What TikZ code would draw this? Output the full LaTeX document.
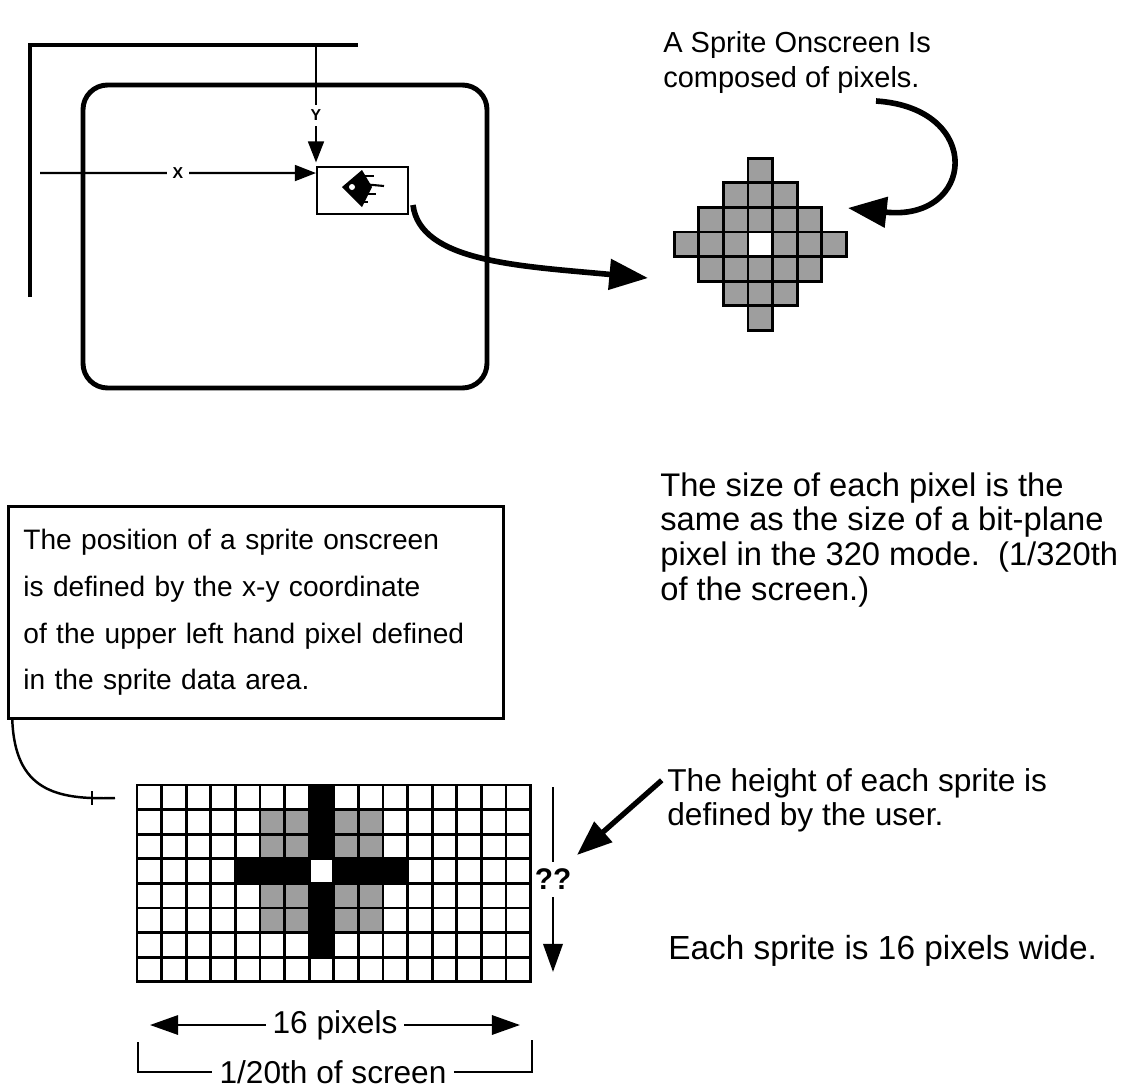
\documentclass[tikz,border=0pt]{standalone}
\usepackage{fontspec}
\setmainfont{Liberation Sans}
\usetikzlibrary{arrows.meta}

\begin{document}
\begin{tikzpicture}[x=0.02cm,y=-0.02cm,
    note/.style={inner sep=0pt,anchor=north west,align=left,font=\fontsize{18}{19.6}\selectfont},
    pix/.style={draw=black,line width=1.6pt,fill=black!38},
    cell/.style={draw=black,line width=1.6pt,fill=white},
    bigarrow/.style={line width=3.2pt,-{Triangle[length=22pt,width=17pt]}},
    thinarrow/.style={line width=1.3pt,-{Triangle[length=12pt,width=9pt]}}]
  \useasboundingbox (0,0) rectangle (1130,1089);

  % the screen and the sprite placed on it
  \draw[line width=2pt] (30,297) -- (30,45) -- (358,45);
  \draw[line width=2.8pt,rounded corners=14pt] (83,85) rectangle (487,388);
  \node[draw,line width=1.4pt,minimum width=1.82cm,minimum height=0.94cm,anchor=north west,inner sep=0pt] (spritebox) at (316,166) {};
  \fill (342,187) -- (362,170) -- (372,187) -- (362,207) -- cycle;
  \fill[white] (352,187) circle (3);
  \draw[line width=1.2pt] (362,184) -- (384,186);
  \draw[line width=0.8pt] (362,176) -- (374,176) (364,194) -- (376,194) (358,202) -- (368,202);
  \coordinate (xfrom) at (40,173);
  \coordinate (yfrom) at (316,45);
  \draw[thinarrow] (xfrom) -- node[fill=white,inner sep=3pt,font=\bfseries\small]{X} ([yshift=-4pt]spritebox.north west);
  \draw[thinarrow] (yfrom) -- node[pos=0.6,fill=white,inner sep=3pt,font=\bfseries\small]{Y} ([yshift=2pt]spritebox.north west);

  % the sprite as pixels
  \foreach \r in {-3,...,3} {
      \foreach \c in {-3,...,3} {
          \pgfmathtruncatemacro\d{abs(\r)+abs(\c)}
          \ifnum\d<4
            \ifnum\d=0
              \draw[cell] (748+\c*24.6,232+\r*24.6) rectangle +(24.6,24.6);
            \else
              \draw[pix] (748+\c*24.6,232+\r*24.6) rectangle +(24.6,24.6);
            \fi
          \fi
        }
    }
  \coordinate (diamondin) at (648,278);
  \coordinate (diamondtop) at (848,208);
  \draw[bigarrow] (413,205) .. controls (420,262) and (520,266) .. (diamondin);

  \node[note,font=\fontsize{16.5}{19.8}\selectfont] (caption) at (663,31) {A Sprite Onscreen Is\\composed of pixels.};
  \draw[bigarrow] (876,101) .. controls (985,108) and (975,222) .. (diamondtop);

  \node[note,font=\fontsize{18.6}{19.8}\selectfont] (sizenote) at (660,472) {The size of each pixel is the\\same as the size of a bit-plane\\pixel in the 320 mode.\ \ (1/320th\\of the screen.)};

  % where the sprite data starts
  \node[draw,line width=1.6pt,anchor=north west,minimum width=9.9cm,minimum height=4.24cm,text width=9.3cm,align=left,inner xsep=0.3cm,
        font=\fontsize{16}{26.6}\selectfont] (posnote) at (7,505)
        {The position of a sprite onscreen\\is defined by the x-y coordinate\\of the upper left hand pixel defined\\in the sprite data area.};

  % sprite data grid, 16 pixels across
  \foreach \r in {0,...,7} {
      \foreach \c in {0,...,15} {
          \draw[cell] (137+\c*24.6,785+\r*24.6) rectangle +(24.6,24.6);
        }
    }
  \foreach \r in {1,2,4,5} {
      \foreach \c in {5,6,8,9} {
          \draw[pix] (137+\c*24.6,785+\r*24.6) rectangle +(24.6,24.6);
        }
    }
  \foreach \c in {4,5,6,8,9,10} {
      \fill[draw=black,line width=1.6pt] (137+\c*24.6,785+3*24.6) rectangle +(24.6,24.6);
    }
  \foreach \r in {0,1,2,4,5,6} {
      \fill[draw=black,line width=1.6pt] (137+7*24.6,785+\r*24.6) rectangle +(24.6,24.6);
    }
  \coordinate (firstpix) at (115,798);
  \draw[line width=1.4pt] ([xshift=3pt]posnote.south west) .. controls (15,790) and (55,800) .. (firstpix);
  \draw[line width=0.8pt] (86,798) -- (98,798) (92,791) -- (92,805);

  % height is free
  \coordinate (htop) at (553,787);
  \coordinate (hbot) at (553,972);
  \draw[line width=1.5pt,-{Triangle[length=16pt,width=11pt]}] (htop) -- node[fill=white,inner ysep=4pt,inner xsep=1pt,font=\bfseries\fontsize{17}{17}\selectfont]{??} (hbot);
  \node[note] (heightnote) at (667,768) {The height of each sprite is\\defined by the user.};
  \coordinate (qmark) at (577,855);
  \draw[line width=3pt,-{Triangle[length=20pt,width=15pt]}] ([xshift=-3pt,yshift=-7pt]heightnote.north west) -- (qmark);

  \node[note,font=\fontsize{19}{20}\selectfont] (widthnote) at (668,935) {Each sprite is 16 pixels wide.};

  % width of the sprite
  \coordinate (wleft) at (150,1025);
  \coordinate (wright) at (520,1025);
  \draw[line width=1.3pt,{Triangle[length=16pt,width=11pt]}-{Triangle[length=16pt,width=11pt]}] (wleft) -- node[fill=white,inner xsep=4pt,font=\fontsize{18}{18}\selectfont]{16 pixels} (wright);
  \node[fill=white,inner xsep=4pt,font=\fontsize{18}{18}\selectfont] (screenpart) at (333,1072) {1/20th of screen};
  \draw[line width=1.3pt] (138,1042) |- (screenpart.west);
  \draw[line width=1.3pt] (screenpart.east) -| (532,1040);
\end{tikzpicture}
\end{document}
